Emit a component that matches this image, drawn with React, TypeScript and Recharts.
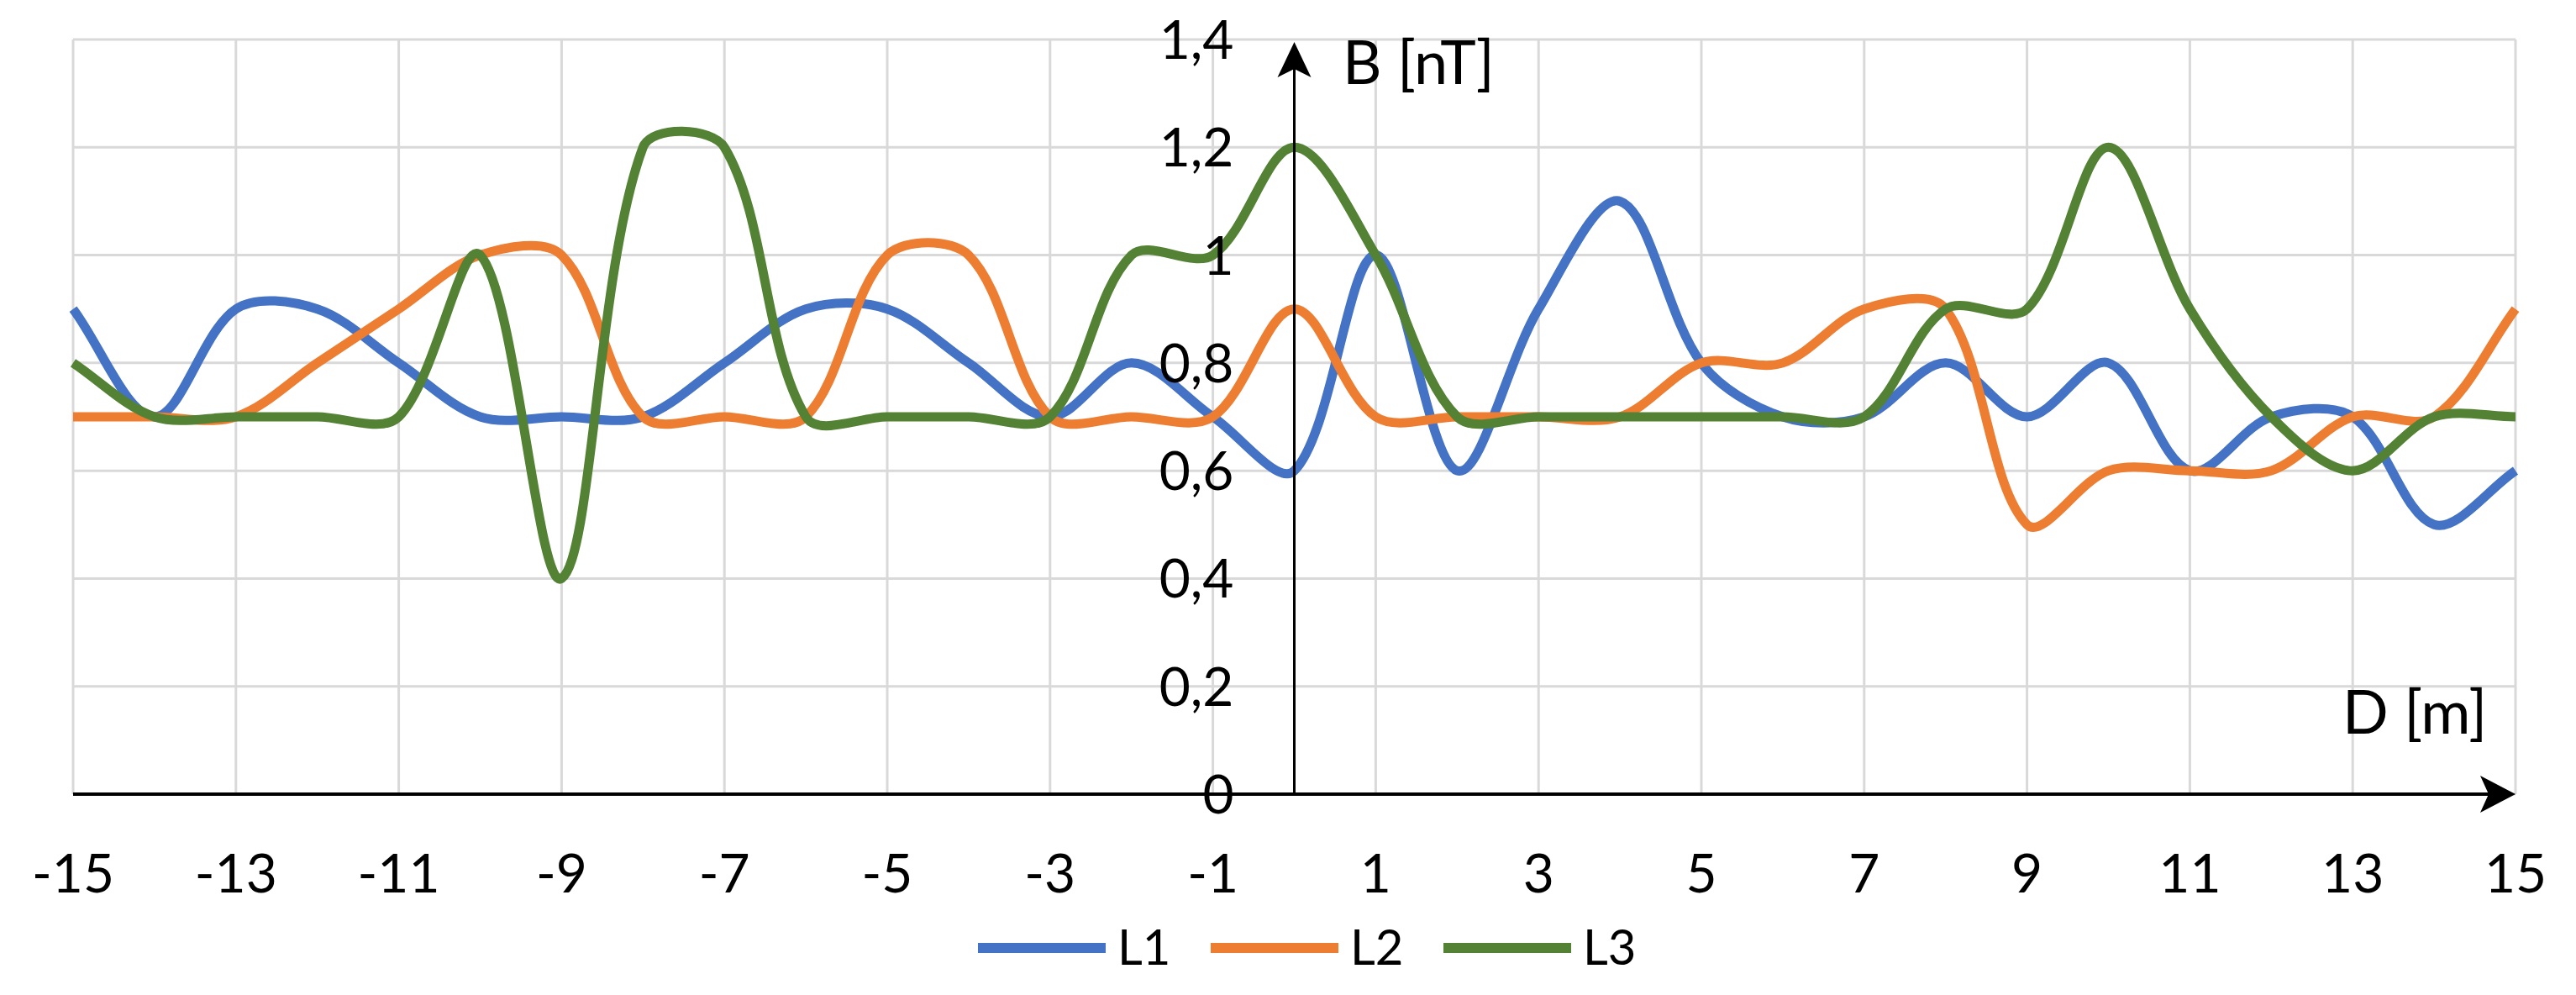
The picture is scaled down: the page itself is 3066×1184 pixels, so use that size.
import React from 'react';
import { LineChart, Line, XAxis, YAxis, CartesianGrid, ReferenceLine } from 'recharts';

const distances = [-15, -14, -13, -12, -11, -10, -9, -8, -7, -6, -5, -4, -3, -2, -1, 0, 1, 2, 3, 4, 5, 6, 7, 8, 9, 10, 11, 12, 13, 14, 15];
const l1 = [0.9, 0.7, 0.9, 0.9, 0.8, 0.7, 0.7, 0.7, 0.8, 0.9, 0.9, 0.8, 0.7, 0.8, 0.7, 0.6, 1.0, 0.6, 0.9, 1.1, 0.8, 0.7, 0.7, 0.8, 0.7, 0.8, 0.6, 0.7, 0.7, 0.5, 0.6];
const l2 = [0.7, 0.7, 0.7, 0.8, 0.9, 1.0, 1.0, 0.7, 0.7, 0.7, 1.0, 1.0, 0.7, 0.7, 0.7, 0.9, 0.7, 0.7, 0.7, 0.7, 0.8, 0.8, 0.9, 0.9, 0.5, 0.6, 0.6, 0.6, 0.7, 0.7, 0.9];
const l3 = [0.8, 0.7, 0.7, 0.7, 0.7, 1.0, 0.4, 1.2, 1.2, 0.7, 0.7, 0.7, 0.7, 1.0, 1.0, 1.2, 1.0, 0.7, 0.7, 0.7, 0.7, 0.7, 0.7, 0.9, 0.9, 1.2, 0.9, 0.7, 0.6, 0.7, 0.7];

const xTicks = [-15, -13, -11, -9, -7, -5, -3, -1, 1, 3, 5, 7, 9, 11, 13, 15];
const yTicks = [0, 0.2, 0.4, 0.6, 0.8, 1, 1.2, 1.4];

const seriesNames = ['L1', 'L2', 'L3'];
const seriesColors = ['#4472C4', '#ED7D31', '#548235'];

const data = distances.map((d, i) => ({ d, L1: l1[i], L2: l2[i], L3: l3[i] }));

const W = 3066;
const H = 1184;
const margin = { top: 47, right: 72, bottom: 238, left: 86 };
const plotLeft = 87;
const plotW = W - plotLeft - margin.right;
const plotBottom = 945;
const zeroX = plotLeft + (plotW * 15) / 30;
const FONT = 'Lato, "Open Sans", sans-serif';

// Excel-like smoothing: bezier segments, tangent from neighbours, weighted by segment lengths
function excelCurve(context: any) {
  let pts: number[][] = [];
  const dist = (a: number[], b: number[]) => Math.hypot(b[0] - a[0], b[1] - a[1]);
  return {
    areaStart() {},
    areaEnd() {},
    lineStart() {
      pts = [];
    },
    point(x: number, y: number) {
      pts.push([+x, +y]);
    },
    lineEnd() {
      const n = pts.length;
      if (!n) return;
      context.moveTo(pts[0][0], pts[0][1]);
      for (let i = 0; i < n - 1; i++) {
        const p0 = pts[Math.max(i - 1, 0)];
        const p1 = pts[i];
        const p2 = pts[i + 1];
        const p3 = pts[Math.min(i + 2, n - 1)];
        const d01 = dist(p0, p1);
        const d12 = dist(p1, p2);
        const d23 = dist(p2, p3);
        const f1 = d01 + d12 > 0 ? d12 / (d01 + d12) / 3 : 0;
        const f2 = d12 + d23 > 0 ? d12 / (d12 + d23) / 3 : 0;
        const c1x = p1[0] + (p2[0] - p0[0]) * f1;
        const c1y = p1[1] + (p2[1] - p0[1]) * f1;
        const c2x = p2[0] - (p3[0] - p1[0]) * f2;
        const c2y = p2[1] - (p3[1] - p1[1]) * f2;
        context.bezierCurveTo(c1x, c1y, c2x, c2y, p2[0], p2[1]);
      }
    },
  };
}

const fmt = (v: number) => String(Math.round(v * 10) / 10).replace('.', ',');

const YTick = ({ y, payload }: any) => (
  <text x={zeroX - 72} y={y + 23} textAnchor="end" fontSize={64} fontFamily={FONT} fill="#000">
    {fmt(payload.value)}
  </text>
);

const XTick = ({ x, payload }: any) => (
  <text x={x} y={plotBottom + 117} textAnchor="middle" fontSize={64} fontFamily={FONT} fill="#000">
    {payload.value}
  </text>
);

const YAxisArrow = ({ x1, y1, y2 }: any) => {
  const top = Math.min(y1, y2) + 3;
  const bottom = Math.max(y1, y2);
  return (
    <g>
      <line x1={x1} x2={x1} y1={bottom} y2={top + 30} stroke="#000" strokeWidth={3} />
      <polygon points={`${x1},${top} ${x1 - 20},${top + 42} ${x1},${top + 32} ${x1 + 20},${top + 42}`} fill="#000" />
    </g>
  );
};

const XAxisArrow = ({ x1, x2, y1 }: any) => {
  const right = Math.max(x1, x2);
  const left = Math.min(x1, x2);
  return (
    <g>
      <line x1={left} x2={right - 30} y1={y1} y2={y1} stroke="#000" strokeWidth={4} />
      <polygon points={`${right},${y1} ${right - 42},${y1 - 22} ${right - 32},${y1} ${right - 42},${y1 + 22}`} fill="#000" />
    </g>
  );
};

export default function App() {
  return (
    <div style={{ position: 'relative', width: W, height: H, background: '#fff' }}>
      <style>{'body{margin:0}'}</style>
      <LineChart width={W} height={H} data={data} margin={margin}>
        <CartesianGrid stroke="#d9d9d9" strokeWidth={3} />
        <XAxis
          dataKey="d"
          type="number"
          domain={[-15, 15]}
          ticks={xTicks}
          height={1}
          axisLine={false}
          tickLine={false}
          tick={<XTick />}
          interval={0}
        />
        <YAxis
          type="number"
          domain={[0, 1.4]}
          ticks={yTicks}
          width={1}
          axisLine={false}
          tickLine={false}
          tick={<YTick />}
          interval={0}
          allowDataOverflow
        />
        {seriesNames.map((name, i) => (
          <Line
            key={name}
            dataKey={name}
            type={excelCurve as any}
            stroke={seriesColors[i]}
            strokeWidth={11}
            dot={false}
            activeDot={false}
            isAnimationActive={false}
          />
        ))}
        <ReferenceLine x={0} shape={<YAxisArrow />} />
        <ReferenceLine y={0} shape={<XAxisArrow />} />
      </LineChart>
      <svg width={W} height={H} style={{ position: 'absolute', left: 0, top: 0, pointerEvents: 'none' }}>
        <text x={1598} y={100} fontSize={72} fontFamily={FONT} fill="#000">B [nT]</text>
        <text x={2788} y={873} fontSize={72} fontFamily={FONT} fill="#000">D [m]</text>
        {seriesNames.map((name, i) => {
          const x = 1164 + i * 277;
          return (
            <g key={name}>
              <line x1={x} x2={x + 152} y1={1128} y2={1128} stroke={seriesColors[i]} strokeWidth={12} />
              <text x={x + 166} y={1148} fontSize={58} fontFamily={FONT} fill="#000">{name}</text>
            </g>
          );
        })}
      </svg>
    </div>
  );
}
